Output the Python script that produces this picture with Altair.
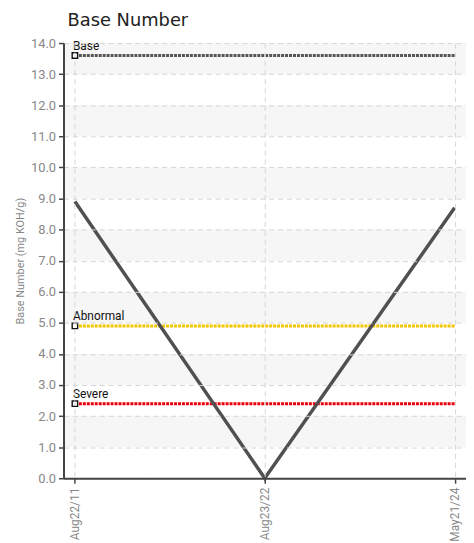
import altair as alt
import pandas as pd

dates = ["Aug22/11", "Aug23/22", "May21/24"]
values = [8.9, 0.0, 8.7]

limit_names = ["Base", "Abnormal", "Severe"]
limit_values = [13.6, 4.9, 2.4]
limit_colors = ["#555555", "#f5c400", "#e8000b"]

band_starts = [1, 3, 5, 7, 9, 11, 13]
y_ticks = [0.0, 1.0, 2.0, 3.0, 4.0, 5.0, 6.0, 7.0, 8.0, 9.0, 10.0, 11.0, 12.0, 13.0, 14.0]

FONT = "Roboto, sans-serif"

main = pd.DataFrame({"date": dates, "value": values})
lim_rows = []
for n, v, c in zip(limit_names, limit_values, limit_colors):
    for d in dates:
        lim_rows.append({"name": n, "date": d, "value": v, "color": c})
lims = pd.DataFrame(lim_rows)
lim_first = lims[lims["date"] == dates[0]]
bands = pd.DataFrame({"y": band_starts, "y2": [b + 1 for b in band_starts]})

xscale = alt.Scale(type="point", domain=dates, padding=0.06)
yscale = alt.Scale(domain=[0, 14], nice=False)

x_axis = alt.Axis(labelAngle=270, labelColor="#888888", labelFont=FONT,
                  labelFontSize=12, domainColor="#444444", domainWidth=2,
                  tickColor="#444444", tickSize=5, tickWidth=1.5,
                  grid=True, gridColor="#d6d6d6", gridDash=[5, 4],
                  labelPadding=4, zindex=1)
y_axis = alt.Axis(values=y_ticks, format=".1f", labelColor="#888888",
                  labelFont=FONT, labelFontSize=13, domainColor="#444444", domainWidth=2,
                  tickColor="#444444", tickSize=5, tickWidth=1.5, labelOverlap=False,
                  grid=True, gridColor="#d6d6d6", gridDash=[5, 4],
                  title="Base Number (mg KOH/g)", titleColor="#888888",
                  titleFont=FONT, titleFontSize=11, titleFontWeight="normal",
                  titlePadding=5, labelPadding=3, zindex=1)


def X():
    return alt.X("date:N", scale=xscale, sort=dates, title=None, axis=x_axis)


def Y(f="value:Q"):
    return alt.Y(f, scale=yscale, axis=y_axis)


band_layer = alt.Chart(bands).mark_rect(color="#f6f6f6").encode(
    y=Y("y:Q"),
    y2="y2:Q",
    x=alt.value(0), x2=alt.value(406),
)

grid_layer = alt.Chart(main).mark_point(opacity=0).encode(x=X(), y=Y())

lim_layer = alt.Chart(lims).mark_line(strokeWidth=3, strokeDash=[3, 1]).encode(
    x=X(), y=Y(),
    color=alt.Color("color:N", scale=None),
    detail="name:N",
)

main_layer = alt.Chart(main).mark_line(color="#505050", strokeWidth=3.5).encode(x=X(), y=Y())

marker_layer = alt.Chart(lim_first).mark_square(size=30, fill="white", stroke="#111111",
                                                 strokeWidth=1.4, opacity=1).encode(x=X(), y=Y())

label_layer = alt.Chart(lim_first).mark_text(align="left", baseline="bottom", dx=-2, dy=-3,
                                              font=FONT, fontSize=12, color="#111111").encode(
    x=X(), y=Y(),
    text="name:N",
)

chart = alt.layer(band_layer, grid_layer, lim_layer, main_layer, marker_layer, label_layer).properties(
    width=406, height=439,
    title=alt.TitleParams("Base Number", anchor="start", frame="group", dx=4, fontSize=18,
                          font="DejaVu Sans", fontWeight="normal", color="#222222", offset=7),
    autosize=alt.AutoSizeParams(type="none"),
    padding={"left": 56, "top": 33, "right": 0, "bottom": 70},
).configure_view(stroke=None)

chart.save("out.html", embed_options={"renderer": "svg", "actions": False})
